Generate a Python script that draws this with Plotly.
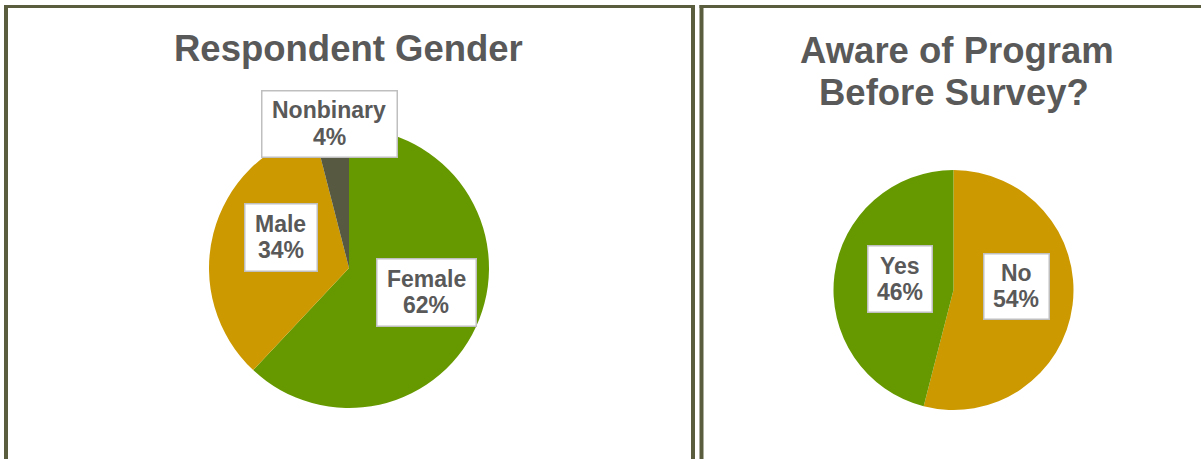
import plotly.graph_objects as go

W, H = 1201, 459

# ---- data ----
gender_labels = ["Female", "Male", "Nonbinary"]
gender_values = [62, 34, 4]
gender_colors = ["#669900", "#CC9900", "#575A40"]

aware_labels = ["No", "Yes"]
aware_values = [54, 46]
aware_colors = ["#CC9900", "#669900"]

title_left = "Respondent Gender"
title_right_lines = ["Aware of Program", "Before Survey?"]

TXT = "#595959"
FONT = "Liberation Sans, Arial, sans-serif"
BORDER = "#5A5E3F"


def px(x):
    return x / W


def py(y):
    return 1 - y / H


fig = go.Figure()

# left pie: center (349,268), r=140
fig.add_trace(go.Pie(
    labels=gender_labels, values=gender_values,
    marker=dict(colors=gender_colors, line=dict(width=0)),
    sort=False, direction="clockwise", rotation=0,
    textinfo="none", hoverinfo="label+percent", showlegend=False,
    domain=dict(x=[px(349 - 140), px(349 + 140)], y=[py(268 + 140), py(268 - 140)]),
))

# right pie: center (953.5,290), r=120
fig.add_trace(go.Pie(
    labels=aware_labels, values=aware_values,
    marker=dict(colors=aware_colors, line=dict(width=0)),
    sort=False, direction="clockwise", rotation=0,
    textinfo="none", hoverinfo="label+percent", showlegend=False,
    domain=dict(x=[px(953.5 - 120), px(953.5 + 120)], y=[py(290 + 120), py(290 - 120)]),
))

annotations = []


def add_text(x, y, text, size, anchor="center"):
    annotations.append(dict(
        x=px(x), y=py(y), xref="paper", yref="paper", text=text, showarrow=False,
        xanchor=anchor, yanchor="middle",
        font=dict(family=FONT, size=size, color=TXT),
    ))


def add_label(cx, cy, w, h, name, value):
    annotations.append(dict(
        x=px(cx), y=py(cy), xref="paper", yref="paper", text=" ", showarrow=False,
        xanchor="center", yanchor="middle", width=w - 2, height=h - 2,
        bgcolor="white", bordercolor="#BFBFBF", borderwidth=1.5, borderpad=0,
        font=dict(family=FONT, size=10, color=TXT),
    ))
    add_text(cx, cy - 13, f"<b>{name}</b>", 23)
    add_text(cx, cy + 13, f"<b>{value}%</b>", 23)


# titles
add_text(348, 49, f"<b>{title_left}</b>", 36.5)
add_text(957, 50, f"<b>{title_right_lines[0]}</b>", 36.5)
add_text(954, 92, f"<b>{title_right_lines[1]}</b>", 36.5)

# data labels (positions)
label_boxes = {
    "Female": (426, 292, 100, 68),
    "Male": (280.5, 237, 73, 68),
    "Nonbinary": (329, 123.5, 136, 67),
    "No": (1016, 286, 66, 66),
    "Yes": (899.5, 278.5, 65, 67),
}
for lab, val in zip(gender_labels + aware_labels, gender_values + aware_values):
    cx, cy, w, h = label_boxes[lab]
    add_label(cx, cy, w, h, lab, val)

# panel borders
shapes = []


def seg(x0, y0, x1, y1, width):
    shapes.append(dict(type="line", xref="paper", yref="paper",
                       x0=px(x0), y0=py(y0), x1=px(x1), y1=py(y1),
                       line=dict(color=BORDER, width=width)))


seg(6, 470, 6, 5, 4)
seg(4, 6.5, 695, 6.5, 3)
seg(693, 5, 693, 470, 4)
seg(701.5, 470, 701.5, 5, 4)
seg(699.5, 6.5, 1220, 6.5, 3)

fig.update_layout(
    width=W, height=H,
    margin=dict(l=0, r=0, t=0, b=0),
    paper_bgcolor="white", plot_bgcolor="white",
    annotations=annotations, shapes=shapes,
    font=dict(family=FONT),
)

fig.write_html(
    "out.html",
    config={"displayModeBar": False},
    post_script="document.body.style.margin='0';document.body.style.overflow='hidden';",
)
